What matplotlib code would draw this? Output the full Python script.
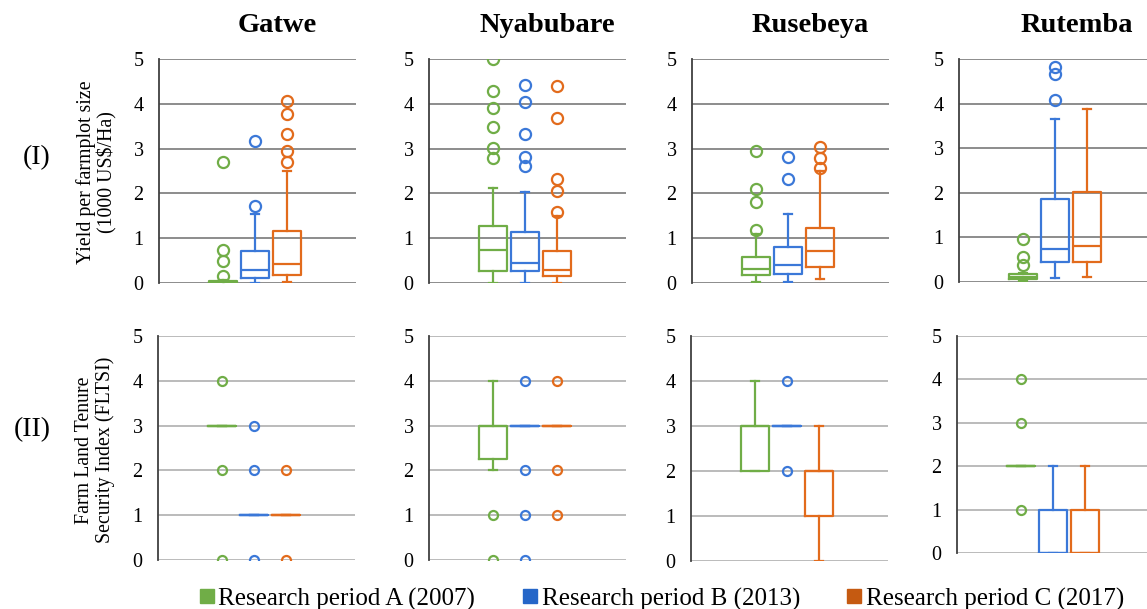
import matplotlib
matplotlib.use("Agg")
import matplotlib.pyplot as plt
from matplotlib.lines import Line2D

plt.rcParams["font.family"] = ["Liberation Serif", "DejaVu Serif"]

villages = ["Gatwe", "Nyabubare", "Rusebeya", "Rutemba"]
periods = ["Research period A (2007)", "Research period B (2013)", "Research period C (2017)"]
box_colors = ["#70AD47", "#3B78D8", "#E26B1C"]
legend_colors = ["#70AD47", "#2566C8", "#C55A11"]

# (I) yield per farmplot size, 1000 US$/Ha  -- [village][period]
yield_q1 = [[0.01, 0.12, 0.18], [0.27, 0.27, 0.15], [0.18, 0.20, 0.35], [0.07, 0.44, 0.44]]
yield_med = [[0.03, 0.28, 0.43], [0.73, 0.45, 0.30], [0.32, 0.40, 0.72], [0.12, 0.75, 0.80]]
yield_q3 = [[0.05, 0.72, 1.15], [1.27, 1.13, 0.72], [0.57, 0.80, 1.22], [0.17, 1.86, 2.01]]
yield_lo = [[0.00, 0.00, 0.03], [0.00, 0.00, 0.00], [0.02, 0.03, 0.08], [0.03, 0.09, 0.12]]
yield_hi = [[0.07, 1.53, 2.50], [2.13, 2.04, 1.50], [1.10, 1.53, 2.50], [0.20, 3.66, 3.87]]
yield_out = [
    [[0.15, 0.50, 0.73, 2.70], [1.71, 3.18], [2.70, 2.95, 3.33, 3.77, 4.06]],
    [[2.80, 3.01, 3.48, 3.91, 4.28, 5.00], [2.61, 2.81, 3.33, 4.04, 4.42], [1.58, 2.05, 2.33, 3.69, 4.40]],
    [[1.18, 1.81, 2.10, 2.94], [2.33, 2.81], [2.57, 2.80, 3.04]],
    [[0.37, 0.56, 0.96], [4.09, 4.66, 4.83], []],
]

# (II) farm land tenure security index
fltsi_q1 = [[3, 1, 1], [2.25, 3, 3], [2, 3, 1], [2, 0, 0]]
fltsi_med = [[3, 1, 1], [3, 3, 3], [3, 3, 2], [2, 0, 0]]
fltsi_q3 = [[3, 1, 1], [3, 3, 3], [3, 3, 2], [2, 1, 1]]
fltsi_lo = [[3, 1, 1], [2, 3, 3], [2, 3, 0], [2, 0, 0]]
fltsi_hi = [[3, 1, 1], [4, 3, 3], [4, 3, 3], [2, 2, 2]]
fltsi_out = [
    [[4, 2, 0], [3, 2, 0], [2, 0]],
    [[1, 0], [4, 2, 1, 0], [4, 2, 1]],
    [[], [4, 2], []],
    [[4, 3, 1], [], []],
]

W, H = 1147, 609
top_rows = [(159, 59, 283), (429, 59, 283), (692, 59, 283), (959, 59, 282)]
bot_rows = [(158, 336, 560), (429, 336, 560), (691, 336, 561), (957, 336, 553)]
panel_w = 197


def draw_panel(ax, q1, med, q3, lo, hi, out, grid_color, msize):
    for p in range(3):
        st = dict(q1=q1[p], med=med[p], q3=q3[p], whislo=lo[p], whishi=hi[p], fliers=out[p])
        c = box_colors[p]
        ax.bxp([st], positions=[p + 1], widths=0.88, capwidths=0.26, showfliers=True,
               boxprops=dict(color=c, linewidth=1.6),
               whiskerprops=dict(color=c, linewidth=1.6),
               capprops=dict(color=c, linewidth=1.6),
               medianprops=dict(color=c, linewidth=1.6),
               flierprops=dict(marker="o", markerfacecolor="none", markeredgecolor=c,
                               markersize=msize, markeredgewidth=1.6))
    ax.set_xlim(-1, 5.16)
    ax.set_ylim(0, 5)
    ax.set_yticks(range(6))
    ax.set_xticks([])
    ax.yaxis.grid(True, color=grid_color, linewidth=1.1)
    ax.set_axisbelow(True)
    for s in ["top", "right", "bottom"]:
        ax.spines[s].set_visible(False)
    ax.spines["left"].set_color("#404040")
    ax.spines["left"].set_linewidth(1.3)
    ax.tick_params(axis="y", length=0, pad=11, labelsize=14.5)


fig = plt.figure(figsize=(W / 100, H / 100), dpi=100)

for i, name in enumerate(villages):
    x0, yt, yb = top_rows[i]
    ax = fig.add_axes([x0 / W, 1 - yb / H, panel_w / W, (yb - yt) / H])
    draw_panel(ax, yield_q1[i], yield_med[i], yield_q3[i], yield_lo[i], yield_hi[i],
               yield_out[i], "#6E6E6E", 8)
    ax.text(0.6, 1 + 34 / (yb - yt), name, transform=ax.transAxes, ha="center",
            va="center", fontsize=20.5, fontweight="bold")

    x0, yt, yb = bot_rows[i]
    ax = fig.add_axes([x0 / W, 1 - yb / H, panel_w / W, (yb - yt) / H])
    draw_panel(ax, fltsi_q1[i], fltsi_med[i], fltsi_q3[i], fltsi_lo[i], fltsi_hi[i],
               fltsi_out[i], "#A8A8A8", 6.5)

fig.text(37 / W, 1 - 158 / H, "(I)", ha="center", va="center", fontsize=20)
fig.text(32 / W, 1 - 430 / H, "(II)", ha="center", va="center", fontsize=20)
fig.text(97 / W, 1 - 172 / H, "Yield per farmplot size\n(1000 US$/Ha)", rotation=90,
         ha="center", va="center", multialignment="center", fontsize=14.3, linespacing=1.1)
fig.text(95 / W, 1 - 450 / H, "Farm Land Tenure\nSecurity Index (FLTSI)", rotation=90,
         ha="center", va="center", multialignment="center", fontsize=14.3, linespacing=1.1)

handles = [Line2D([], [], marker="s", linestyle="none", markersize=10,
                  markerfacecolor=c, markeredgecolor=c) for c in legend_colors]
fig.legend(handles, periods, loc="center", bbox_to_anchor=(662 / W, 1 - 599 / H), ncol=3,
           frameon=False, fontsize=18, handlelength=0.55, handletextpad=0.2,
           columnspacing=1.9, borderpad=0)

fig.savefig("out.png", dpi=100)
